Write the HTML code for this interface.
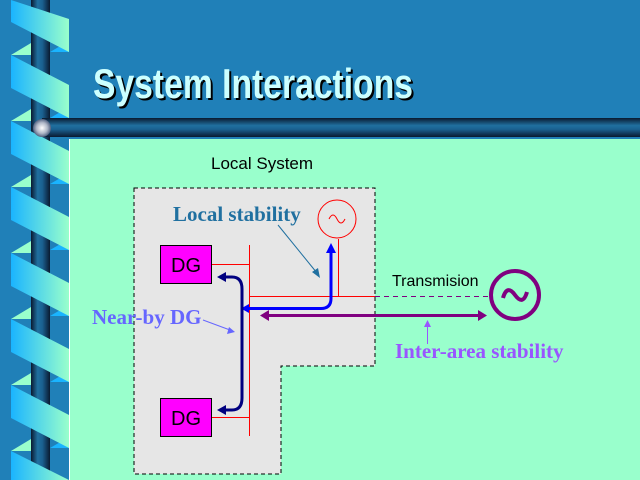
<!DOCTYPE html>
<html><head><meta charset="utf-8"><style>
html,body{margin:0;padding:0;}
body{width:640px;height:480px;overflow:hidden;background:#2080b8;position:relative;}
svg{position:absolute;left:0;top:0;display:block;}
</style></head><body>
<svg width="640" height="480" viewBox="0 0 640 480" xmlns="http://www.w3.org/2000/svg">
<defs>
<linearGradient id="band" x1="0" x2="1" y1="0" y2="0"><stop offset="0" stop-color="#1ab4ff"/><stop offset="1" stop-color="#99ffcc"/></linearGradient>
<linearGradient id="post" x1="0" x2="1" y1="0" y2="0"><stop offset="0" stop-color="#0a1a30"/><stop offset="0.35" stop-color="#2070a0"/><stop offset="0.6" stop-color="#1a6090"/><stop offset="1" stop-color="#0a1a30"/></linearGradient>
<linearGradient id="bar" x1="0" x2="0" y1="0" y2="1"><stop offset="0" stop-color="#0a1a30"/><stop offset="0.4" stop-color="#2070a0"/><stop offset="0.6" stop-color="#1a6090"/><stop offset="1" stop-color="#0a1a30"/></linearGradient>
<radialGradient id="ball"><stop offset="0" stop-color="#ffffff"/><stop offset="0.6" stop-color="#b0b8c8"/><stop offset="1" stop-color="#506080"/></radialGradient>
<clipPath id="c"><rect x="0" y="0" width="640" height="480"/></clipPath>
</defs>
<g clip-path="url(#c)">
<rect x="70" y="139" width="570" height="341" fill="#99ffcc"/>
<line x1="69.5" y1="139" x2="69.5" y2="480" stroke="#ffffff" stroke-width="1"/>
<rect x="31" y="0" width="19" height="480" fill="url(#post)"/>
<g>
<polygon points="11,55 31,43 31,55" fill="#99ffcc"/>
<polygon points="11,121 31,109 31,121" fill="#99ffcc"/>
<polygon points="11,187 31,175 31,187" fill="#99ffcc"/>
<polygon points="11,253 31,241 31,253" fill="#99ffcc"/>
<polygon points="11,319 31,307 31,319" fill="#99ffcc"/>
<polygon points="11,385 31,373 31,385" fill="#99ffcc"/>
<polygon points="11,451 31,439 31,451" fill="#99ffcc"/>
<polygon points="50,52 69,41 69,52" fill="#1ab4ff"/>
<polygon points="50,118 69,107 69,118" fill="#1ab4ff"/>
<polygon points="50,184 69,173 69,184" fill="#1ab4ff"/>
<polygon points="50,250 69,239 69,250" fill="#1ab4ff"/>
<polygon points="50,316 69,305 69,316" fill="#1ab4ff"/>
<polygon points="50,382 69,371 69,382" fill="#1ab4ff"/>
<polygon points="50,448 69,437 69,448" fill="#1ab4ff"/>
</g>
<g fill="url(#band)">
<polygon points="11,0 69,19 69,52 11,22"/>
<polygon points="11,55 69,85 69,118 11,88"/>
<polygon points="11,121 69,151 69,184 11,154"/>
<polygon points="11,187 69,217 69,250 11,220"/>
<polygon points="11,253 69,283 69,316 11,286"/>
<polygon points="11,319 69,349 69,382 11,352"/>
<polygon points="11,385 69,415 69,448 11,418"/>
<polygon points="11,451 69,480 11,480"/>
</g>
<rect x="42" y="118" width="598" height="19" fill="url(#bar)"/>
<circle cx="42" cy="128" r="9" fill="url(#ball)"/>
<text x="95" y="100" font-family="Liberation Sans Narrow, Liberation Sans, sans-serif" font-weight="bold" font-size="42" fill="#000" textLength="320" lengthAdjust="spacingAndGlyphs">System Interactions</text>
<text x="93" y="98" font-family="Liberation Sans Narrow, Liberation Sans, sans-serif" font-weight="bold" font-size="42" fill="#ccffff" textLength="320" lengthAdjust="spacingAndGlyphs">System Interactions</text>

<text x="211" y="169" font-family="Liberation Sans, sans-serif" font-size="17" fill="#000">Local System</text>
<polygon points="134,188 375,188 375,366 281,366 281,474 134,474" fill="#e6e6e6" stroke="#000" stroke-dasharray="4,3" stroke-width="1"/>

<rect x="160.5" y="245.5" width="51" height="38" fill="#ff00ff" stroke="#000"/>
<rect x="160.5" y="398.5" width="51" height="38" fill="#ff00ff" stroke="#000"/>
<text x="186" y="272" text-anchor="middle" font-family="Liberation Sans, sans-serif" font-size="20" fill="#000">DG</text>
<text x="186" y="425" text-anchor="middle" font-family="Liberation Sans, sans-serif" font-size="20" fill="#000">DG</text>

<g stroke="#ff0000" stroke-width="1" fill="none">
<line x1="249.5" y1="245" x2="249.5" y2="436"/>
<line x1="212" y1="264.5" x2="249" y2="264.5"/>
<line x1="212" y1="417.5" x2="249" y2="417.5"/>
<line x1="249" y1="296.5" x2="375" y2="296.5"/>
<line x1="338.5" y1="239" x2="338.5" y2="296"/>
<circle cx="337" cy="219" r="19"/>
<path d="M329,219 q4,-8 8,0 q4,8 8,0"/>
</g>
<line x1="375" y1="296.5" x2="488" y2="296.5" stroke="#800080" stroke-dasharray="5,4"/>
<circle cx="515" cy="295" r="24" fill="none" stroke="#800080" stroke-width="4"/>
<path d="M503,298 q4,-14 12,-3 q8,11 12,-3" fill="none" stroke="#800080" stroke-width="4"/>
<text x="392" y="286" font-family="Liberation Sans, sans-serif" font-size="16" fill="#000">Transmision</text>

<path d="M245,308.5 H321 q10,0 10,-10 V252" fill="none" stroke="#0000ff" stroke-width="3"/>
<polygon points="331,243 326,253 336,253" fill="#0000ff"/>
<polygon points="241,308.5 249,304 249,313" fill="#0000ff"/>

<path d="M225,277 H232 q10,0 10,12 V398 q0,12 -10,12 H225" fill="none" stroke="#000080" stroke-width="3"/>
<polygon points="217,277 226,272 226,282" fill="#000080"/>
<polygon points="217,410 226,405 226,415" fill="#000080"/>

<line x1="268" y1="315.5" x2="480" y2="315.5" stroke="#800080" stroke-width="3"/>
<polygon points="260,315.5 269,310 269,321" fill="#800080"/>
<polygon points="487,315.5 478,310 478,321" fill="#800080"/>

<text x="173" y="221" font-family="Liberation Serif, serif" font-weight="bold" font-size="21" fill="#2070a0">Local stability</text>
<line x1="278" y1="225" x2="317" y2="273" stroke="#2070a0" stroke-width="1"/>
<polygon points="320,278 312,272 318,268" fill="#2070a0"/>

<text x="92" y="324" font-family="Liberation Serif, serif" font-weight="bold" font-size="21" fill="#6666ff">Near-by DG</text>
<line x1="203" y1="320" x2="230" y2="330" stroke="#6666ff" stroke-width="1"/>
<polygon points="235,332 227,334 229,327" fill="#6666ff"/>

<text x="395" y="358" font-family="Liberation Serif, serif" font-weight="bold" font-size="21" fill="#9955ff">Inter-area stability</text>
<line x1="427.5" y1="344" x2="427.5" y2="325" stroke="#9955ff" stroke-width="1"/>
<polygon points="427.5,320 424,327 431,327" fill="#9955ff"/>
</g>
</svg>
</body></html>
